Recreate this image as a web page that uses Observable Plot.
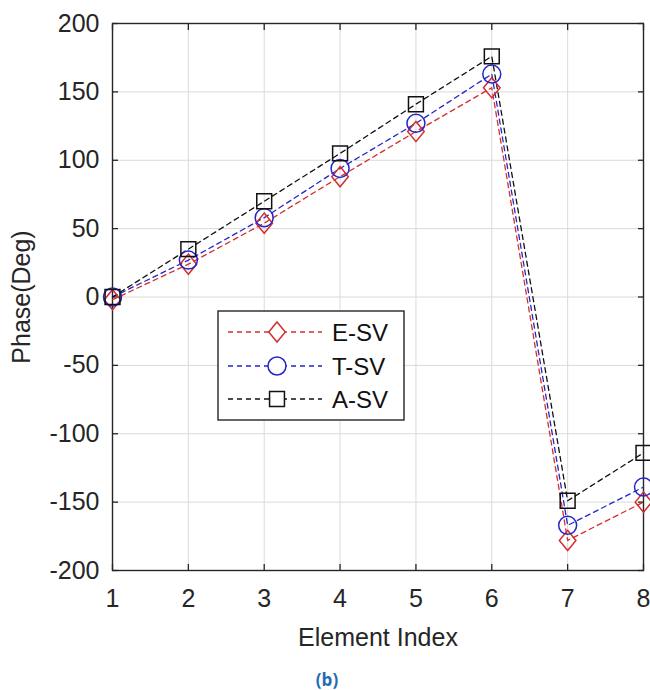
<!DOCTYPE html>
<html><head><meta charset="utf-8">
<script src="https://cdn.jsdelivr.net/npm/d3@7"></script>
<script src="https://cdn.jsdelivr.net/npm/@observablehq/plot@0.6"></script>
<style>
body{margin:0;background:#fff;font-family:"Liberation Sans",Arial,sans-serif;}
#wrap{position:relative;width:650px;height:650px;}
#legend{position:absolute;left:0;top:0;}
#caption{text-align:center;color:#1f6cb0;font-weight:bold;font-size:17px;font-family:"Open Sans",sans-serif;margin-top:20px;line-height:20px;width:650px;padding-left:4px;box-sizing:border-box;}
</style></head><body>
<div id="wrap"></div>
<div id="caption">(b)</div>
<script>
const elementIndex = [1, 2, 3, 4, 5, 6, 7, 8];
const seriesNames = ["E-SV", "T-SV", "A-SV"];
const eSV = [-2, 24, 54, 88, 121, 153, -178, -150];
const tSV = [0, 27, 58, 94, 127, 163, -167, -139];
const aSV = [0, 35, 70, 105, 141, 176, -149, -114];
const xTicks = [1, 2, 3, 4, 5, 6, 7, 8];
const yTicks = [-200, -150, -100, -50, 0, 50, 100, 150, 200];
const colors = ["#d42f2f", "#2525c8", "#111111"];

const seriesValues = [eSV, tSV, aSV];
const data = [];
seriesNames.forEach((s, i) => seriesValues[i].forEach((v, j) => data.push({series: s, x: elementIndex[j], y: v})));

const diamond = {draw(ctx, size) {
  const r = Math.sqrt(size / Math.PI);
  const w = r * 0.92, h = r * 1.12;
  ctx.moveTo(0, -h); ctx.lineTo(w, 0); ctx.lineTo(0, h); ctx.lineTo(-w, 0); ctx.closePath();
}};
const symbols = [diamond, "circle", "square"];
const radii = [9, 9, 8.4];
const axisColor = "#262626";
const empty = () => "";
const fmt = d => String(d);

const chart = Plot.plot({
  width: 650, height: 650,
  marginLeft: 112, marginRight: 7, marginTop: 23, marginBottom: 80,
  style: {fontFamily: "'Liberation Sans', Arial, sans-serif", color: axisColor, background: "transparent", overflow: "visible"},
  x: {domain: [1, 8]},
  y: {domain: [-200, 200]},
  marks: [
    Plot.gridX(xTicks, {stroke: "#dadada", strokeOpacity: 1, strokeWidth: 1}),
    Plot.gridY(yTicks, {stroke: "#dadada", strokeOpacity: 1, strokeWidth: 1}),
    Plot.axisX(xTicks, {anchor: "bottom", tickSize: 0, tickPadding: 19, fontSize: 25, tickFormat: fmt, label: "Element Index", labelAnchor: "center", labelArrow: "none", labelOffset: 75}),
    Plot.axisX(xTicks, {anchor: "bottom", tickSize: -6, tickFormat: empty, label: null, strokeWidth: 1.3}),
    Plot.axisX(xTicks, {anchor: "top", tickSize: -6, tickFormat: empty, label: null, strokeWidth: 1.3}),
    Plot.axisY(yTicks, {anchor: "left", tickSize: 0, tickPadding: 13, fontSize: 25, tickFormat: fmt, label: "Phase(Deg)", labelAnchor: "center", labelArrow: "none", labelOffset: 100}),
    Plot.axisY(yTicks, {anchor: "left", tickSize: -6, tickFormat: empty, label: null, strokeWidth: 1.3}),
    Plot.axisY(yTicks, {anchor: "right", tickSize: -6, tickFormat: empty, label: null, strokeWidth: 1.3}),
    Plot.frame({stroke: axisColor, strokeWidth: 1.4}),
    ...seriesNames.map((s, i) => Plot.line(data.filter(d => d.series === s), {x: "x", y: "y", stroke: colors[i], strokeWidth: 1.3, strokeDasharray: "5,4"})),
    ...seriesNames.map((s, i) => Plot.dot(data.filter(d => d.series === s), {x: "x", y: "y", stroke: colors[i], fill: "none", strokeWidth: 1.5, symbol: symbols[i], r: radii[i]}))
  ]
});
document.getElementById("wrap").appendChild(chart);

// legend overlay
const lg = d3.select("#wrap").append("svg").attr("id", "legend").attr("width", 650).attr("height", 650)
  .style("font-family", "'Liberation Sans', Arial, sans-serif");
lg.append("rect").attr("x", 218).attr("y", 311).attr("width", 186).attr("height", 109)
  .attr("fill", "#fff").attr("stroke", axisColor).attr("stroke-width", 1.4);
const rowsY = [332, 366, 399];
seriesNames.forEach((s, i) => {
  const y = rowsY[i];
  lg.append("line").attr("x1", 228).attr("x2", 322).attr("y1", y).attr("y2", y)
    .attr("stroke", colors[i]).attr("stroke-width", 1.3).attr("stroke-dasharray", "5,4");
  const sym = d3.symbol().type(i === 0 ? diamond : i === 1 ? d3.symbolCircle : d3.symbolSquare).size(Math.PI * radii[i] * radii[i]);
  lg.append("path").attr("d", sym()).attr("transform", `translate(277,${y})`)
    .attr("fill", "#fff").attr("stroke", colors[i]).attr("stroke-width", 1.5);
  lg.append("text").attr("x", 332).attr("y", y).attr("dy", "0.36em").attr("font-size", 24).attr("fill", "#111").text(s);
});
</script>
</body></html>
